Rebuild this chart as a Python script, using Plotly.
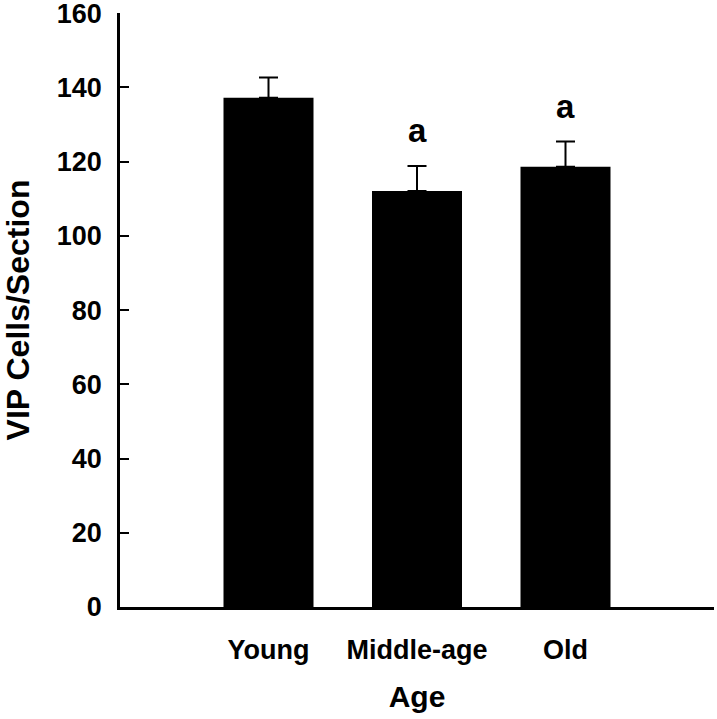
import plotly.graph_objects as go

categories = ["Young", "Middle-age", "Old"]
means = [137.2, 112.1, 118.6]
sems = [5.5, 6.7, 6.8]
sig_letters = ["", "a", "a"]
y_ticks = [0, 20, 40, 60, 80, 100, 120, 140, 160]

FONT = "Liberation Sans, Arial, Helvetica, sans-serif"
x_idx = list(range(len(categories)))

fig = go.Figure()
fig.add_trace(go.Bar(
    x=x_idx, y=means, width=0.606,
    marker=dict(color="black", line=dict(width=0)),
    error_y=dict(type="data", symmetric=False, array=sems,
                 arrayminus=[0] * len(sems), color="black",
                 thickness=2, width=9.5),
    showlegend=False,
))

for xi, m, s, lab in zip(x_idx, means, sems, sig_letters):
    if lab:
        fig.add_annotation(x=xi, y=m + s, text=lab, showarrow=False,
                           yanchor="bottom", yshift=15,
                           font=dict(family=FONT, size=33, color="black",
                                     weight="bold"))

fig.update_layout(
    width=717, height=719,
    margin=dict(l=120, r=3, t=13, b=112),
    plot_bgcolor="white", paper_bgcolor="white",
    bargap=0.4,
    font=dict(family=FONT, color="black"),
)
fig.update_xaxes(
    range=[-1, 3], tickmode="array", tickvals=x_idx, ticktext=categories,
    showline=True, linecolor="black", linewidth=2.5,
    ticks="", showgrid=False, zeroline=False, automargin=False,
    tickfont=dict(family=FONT, size=27, color="black", weight="bold"),
    ticklabelstandoff=17,
    title=dict(text="Age", standoff=22,
               font=dict(family=FONT, size=30, color="black", weight="bold")),
)
fig.update_yaxes(
    range=[0, 160.05], tickmode="array", tickvals=y_ticks,
    showline=True, linecolor="black", linewidth=2.5,
    ticks="inside", ticklen=9, tickwidth=2, tickcolor="black",
    showgrid=False, zeroline=False, automargin=False,
    ticklabeloverflow="allow",
    tickfont=dict(family=FONT, size=27, color="black", weight="bold"),
    ticklabelstandoff=10,
    title=dict(text="VIP Cells/Section", standoff=50,
               font=dict(family=FONT, size=32, color="black", weight="bold")),
)

# remove the page's default 8px body margin so the figure fills the window
fig.write_html("out.html", config={"displayModeBar": False},
               post_script="document.body.style.margin='0px';")
